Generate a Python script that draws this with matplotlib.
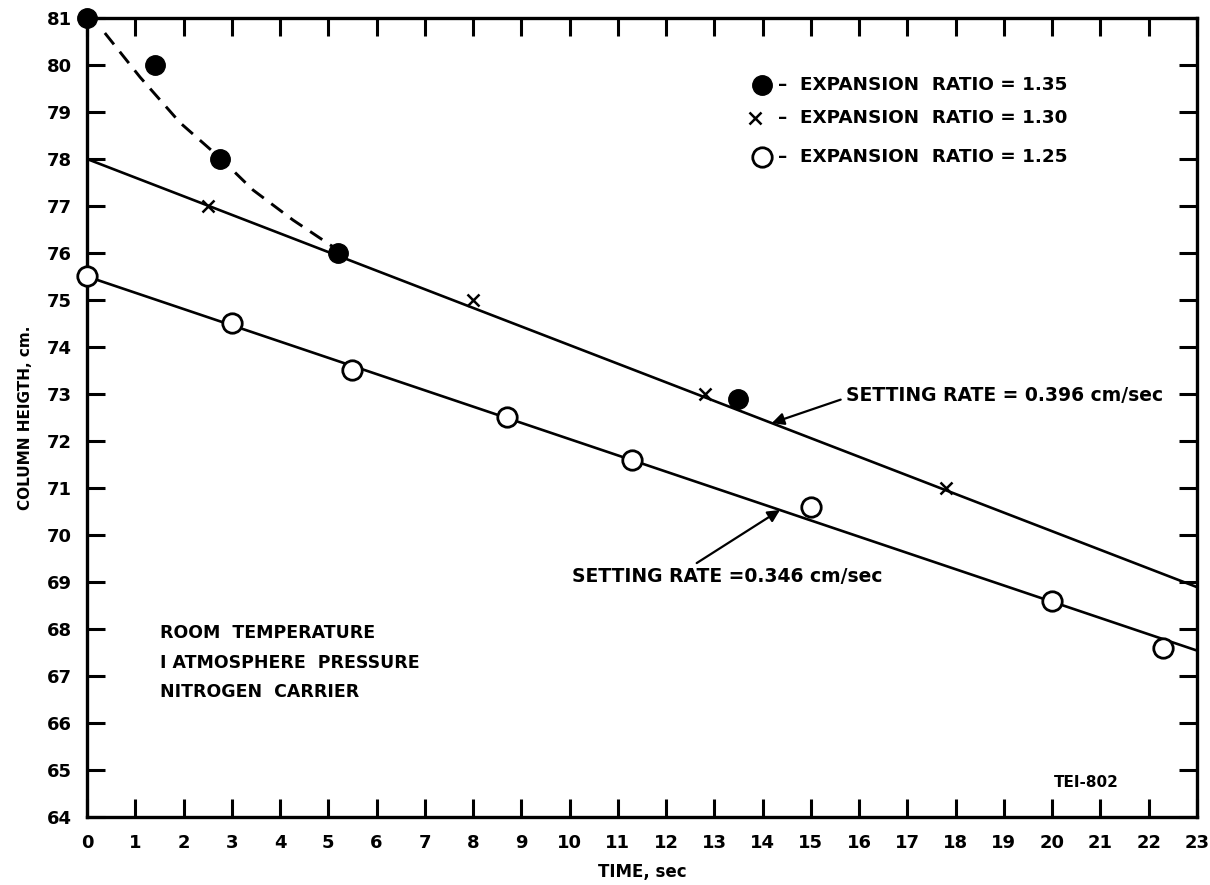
import numpy as np
import matplotlib.pyplot as plt

plt.rcParams['font.family'] = ['DejaVu Sans']
plt.rcParams['font.weight'] = 'bold'

# expansion ratio 1.35 (filled circles)
t_135 = [0.0, 1.4, 2.75, 5.2, 13.5]
h_135 = [81.0, 80.0, 78.0, 76.0, 72.9]

# expansion ratio 1.30 (crosses)
t_130 = [2.5, 8.0, 12.8, 17.8]
h_130 = [77.0, 75.0, 73.0, 71.0]

# expansion ratio 1.25 (open circles)
t_125 = [0.0, 3.0, 5.5, 8.7, 11.3, 15.0, 20.0, 22.3]
h_125 = [75.5, 74.5, 73.5, 72.5, 71.6, 70.6, 68.6, 67.6]

# hand drawn dashed curve for the early 1.35 points
t_curve = [0.37, 1.10, 1.93, 2.76, 3.44, 4.27, 5.10, 5.18]
h_curve = [80.68, 79.74, 78.77, 78.02, 77.34, 76.70, 76.13, 76.0]

# settling lines: start height and rate (cm/sec)
h0_upper, rate_upper = 78.0, 0.396
h0_lower, rate_lower = 75.5, 0.346
t_line = np.array([0.0, 23.0])

xticks = list(range(0, 24))
yticks = list(range(64, 82))

fig = plt.figure(figsize=(12.1, 8.85), dpi=100)
ax = fig.add_axes([0.0719, 0.0768, 0.9173, 0.9029])

ax.plot(t_line, h0_upper - rate_upper * t_line, color='black', lw=1.9, zorder=2)
ax.plot(t_line, h0_lower - rate_lower * t_line, color='black', lw=1.9, zorder=2)
ax.plot(t_curve, h_curve, color='black', lw=2.1, ls=(0, (5, 3.2)), zorder=2)

ax.plot(t_135, h_135, 'o', color='black', ms=14, clip_on=False, zorder=4)
ax.plot(t_130, h_130, 'x', color='black', ms=9, mew=1.8, zorder=4)
ax.plot(t_125, h_125, 'o', mfc='white', mec='black', mew=2.0, ms=14,
        clip_on=False, zorder=4)

ax.set_xlim(0, 23)
ax.set_ylim(64, 81)
ax.set_xticks(xticks)
ax.set_yticks(yticks)
ax.tick_params(direction='in', top=True, right=True, length=13, width=2.2,
               labelsize=13)
ax.tick_params(axis='x', pad=12)
ax.tick_params(axis='y', pad=11)
for s in ax.spines.values():
    s.set_linewidth(2.4)

ax.set_xlabel('TIME, sec', fontsize=12, fontweight='bold', labelpad=8)
ax.set_ylabel('COLUMN HEIGTH, cm.', fontsize=11, fontweight='bold', labelpad=10)

# legend drawn by hand
ax.plot([13.99], [79.57], 'o', color='black', ms=14)
ax.plot([13.84], [78.87], 'x', color='black', ms=8, mew=1.8)
ax.plot([13.99], [78.04], 'o', mfc='white', mec='black', mew=2.0, ms=14)
legend_rows = [(79.57, '1.35'), (78.87, '1.30'), (78.04, '1.25')]
for y, r in legend_rows:
    ax.text(14.32, y, '–  EXPANSION  RATIO = ' + r, fontsize=13.2,
            ha='left', va='center')

ax.annotate('SETTING RATE = 0.396 cm/sec', xy=(14.19, h0_upper - rate_upper * 14.19),
            xytext=(15.73, 72.96), fontsize=13.5, ha='left', va='center',
            arrowprops=dict(arrowstyle='-|>', color='black', lw=1.6,
                            mutation_scale=18, shrinkA=2, shrinkB=0,
                            relpos=(0.0, 0.4)))
ax.annotate('SETTING RATE =0.346 cm/sec', xy=(14.36, h0_lower - rate_lower * 14.36),
            xytext=(10.05, 69.11), fontsize=13.5, ha='left', va='center',
            arrowprops=dict(arrowstyle='-|>', color='black', lw=1.6,
                            mutation_scale=18, shrinkA=2, shrinkB=0,
                            relpos=(0.38, 1.0)))

ax.text(1.51, 68.1, 'ROOM  TEMPERATURE\nI ATMOSPHERE  PRESSURE\nNITROGEN  CARRIER',
        fontsize=12.5, ha='left', va='top', linespacing=1.8)
ax.text(20.7, 64.74, 'TEI-802', fontsize=11, ha='center', va='center')

fig.savefig('out.png', dpi=100)
